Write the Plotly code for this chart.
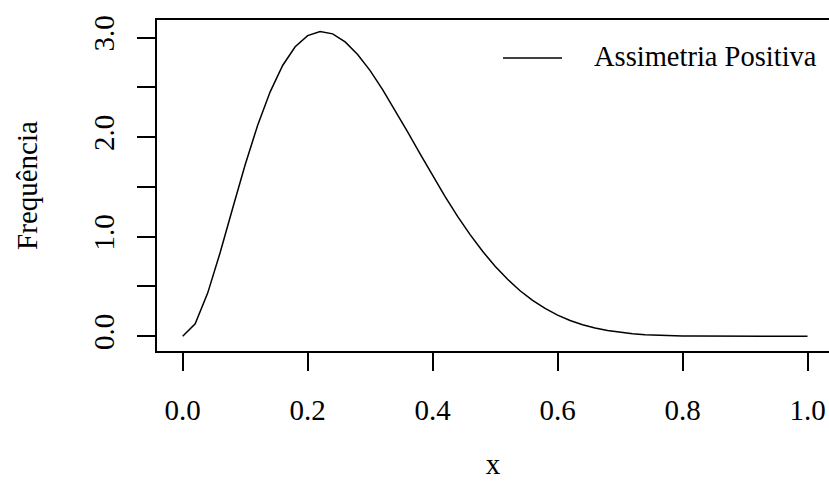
import plotly.graph_objects as go

x_vals = [0.00, 0.02, 0.04, 0.06, 0.08, 0.10, 0.12, 0.14, 0.16, 0.18,
          0.20, 0.22, 0.24, 0.26, 0.28, 0.30, 0.32, 0.34, 0.36, 0.38,
          0.40, 0.42, 0.44, 0.46, 0.48, 0.50, 0.52, 0.54, 0.56, 0.58,
          0.60, 0.62, 0.64, 0.66, 0.68, 0.70, 0.72, 0.74, 0.76, 0.78,
          0.80, 0.82, 0.84, 0.86, 0.88, 0.90, 0.92, 0.94, 0.96, 0.98, 1.00]
freq = [0.000, 0.125, 0.433, 0.841, 1.285, 1.722, 2.119, 2.455, 2.720, 2.908,
        3.020, 3.061, 3.038, 2.957, 2.831, 2.668, 2.478, 2.270, 2.052, 1.831,
        1.612, 1.402, 1.204, 1.021, 0.853, 0.703, 0.572, 0.457, 0.360, 0.279,
        0.212, 0.158, 0.116, 0.082, 0.057, 0.039, 0.025, 0.016, 0.010, 0.006,
        0.003, 0.002, 0.001, 0.000, 0.000, 0.000, 0.000, 0.000, 0.000, 0.000, 0.000]
x_ticks = [0.0, 0.2, 0.4, 0.6, 0.8, 1.0]
x_tick_text = ["0.0", "0.2", "0.4", "0.6", "0.8", "1.0"]
y_ticks = [0.0, 0.5, 1.0, 1.5, 2.0, 2.5, 3.0]
y_tick_text = ["0.0", "", "1.0", "", "2.0", "", "3.0"]
series_name = "Assimetria Positiva"

FONT = "Liberation Serif"
FS = 29

fig = go.Figure()
fig.add_trace(go.Scatter(x=x_vals, y=freq, mode="lines", name=series_name,
                         line=dict(color="black", width=1.5), showlegend=False))

# legend drawn R-style: line sample + label, no frame
fig.add_shape(type="line", xref="paper", yref="paper",
              x0=0.5149, x1=0.6027, y0=0.8854, y1=0.8854,
              line=dict(color="black", width=1.5))
fig.add_annotation(xref="paper", yref="paper", x=0.6473, y=0.8884,
                   xanchor="left", yanchor="middle", showarrow=False,
                   text=series_name, font=dict(family=FONT, size=28.5, color="black"))

fig.update_layout(
    width=829, height=500,
    margin=dict(l=157, r=0, t=20, b=148.5),
    paper_bgcolor="white", plot_bgcolor="white",
    font=dict(family=FONT, size=FS, color="black"),
    showlegend=False,
    xaxis=dict(range=[-0.0411, 1.0344], tickvals=x_ticks, ticktext=x_tick_text,
               ticks="outside", ticklen=18, tickwidth=1.5, tickcolor="black",
               ticklabelstandoff=14,
               showline=True, linecolor="black", linewidth=1.5, mirror=True,
               showgrid=False, zeroline=False,
               title=dict(text="x", standoff=29, font=dict(family=FONT, size=FS))),
    yaxis=dict(range=[-0.1485, 3.177], tickvals=y_ticks, ticktext=y_tick_text,
               tickangle=-90,
               ticks="outside", ticklen=18, tickwidth=1.5, tickcolor="black",
               ticklabelstandoff=12,
               showline=True, linecolor="black", linewidth=1.5, mirror=False,
               showgrid=False, zeroline=False,
               title=dict(text="Frequência", standoff=42, font=dict(family=FONT, size=FS))),
)

fig.write_html("out.html")
